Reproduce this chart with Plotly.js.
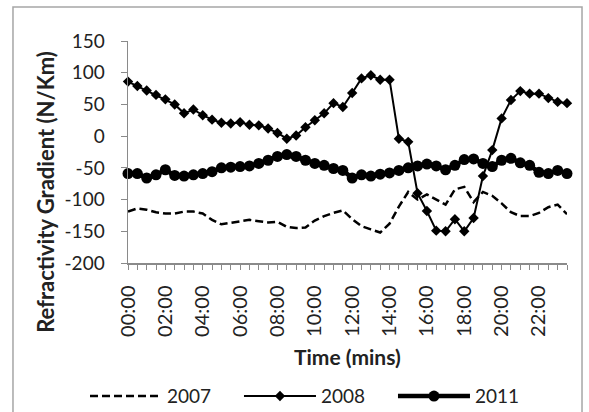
<!DOCTYPE html>
<html><head><meta charset="utf-8">
<script src="https://cdn.plot.ly/plotly-3.0.1.min.js"></script>
<style>html,body{margin:0;padding:0;background:#fff}#chart{width:589px;height:412px}</style>
</head><body><div id="chart"></div>
<script>
const times = ["00:00","00:30","01:00","01:30","02:00","02:30","03:00","03:30","04:00","04:30","05:00","05:30",
"06:00","06:30","07:00","07:30","08:00","08:30","09:00","09:30","10:00","10:30","11:00","11:30",
"12:00","12:30","13:00","13:30","14:00","14:30","15:00","15:30","16:00","16:30","17:00","17:30",
"18:00","18:30","19:00","19:30","20:00","20:30","21:00","21:30","22:00","22:30","23:00","23:30"];
const shownLabels = ["00:00","02:00","04:00","06:00","08:00","10:00","12:00","14:00","16:00","18:00","20:00","22:00"];
const s2007 = [-119,-114,-116,-120,-122,-122,-119,-119,-122,-132,-139,-137,
-135,-132,-134,-136,-135,-143,-145,-144,-133,-126,-121,-117,
-131,-142,-147,-152,-138,-111,-88,-100,-92,-100,-108,-84,
-80,-104,-88,-94,-106,-120,-126,-126,-121,-112,-108,-123];
const s2008 = [86,79,72,65,58,50,36,42,33,26,21,20,
22,18,17,12,5,-4,1,14,25,36,52,46,
68,91,96,89,89,-4,-9,-90,-118,-149,-150,-131,
-150,-129,-63,-22,28,57,71,67,67,60,54,52];
const s2011 = [-59,-59,-66,-61,-53,-62,-63,-61,-59,-56,-50,-49,
-48,-47,-43,-38,-32,-29,-32,-38,-43,-46,-51,-54,
-66,-61,-63,-60,-58,-54,-50,-47,-44,-47,-53,-46,
-37,-36,-43,-48,-38,-35,-42,-46,-57,-59,-54,-59];
const yTickVals = [150,100,50,0,-50,-100,-150,-200];
const yTickText = ["150","100","50","0","-50","-100","-150","-200"];
const seriesNames = ["2007","2008","2011"];

const FONT = "Lato, 'Open Sans', sans-serif";
const AX = "#8a8a8a";
const traces = [
  {x: times, y: s2007, name: seriesNames[0], type: "scatter", mode: "lines",
   line: {color: "#000", width: 2.5, dash: "8px,4px"}, cliponaxis: false},
  {x: times, y: s2008, name: seriesNames[1], type: "scatter", mode: "lines+markers",
   line: {color: "#000", width: 2}, marker: {symbol: "diamond", size: 8, color: "#000"}, cliponaxis: false},
  {x: times, y: s2011, name: seriesNames[2], type: "scatter", mode: "lines+markers",
   line: {color: "#000", width: 4.5}, marker: {symbol: "circle", size: 11, color: "#000"}, cliponaxis: false}
];
const tickText = times.map(t => shownLabels.includes(t) ? t : "");
const layout = {
  width: 589, height: 412,
  margin: {l: 128, r: 22, t: 41, b: 149, pad: 0, autoexpand: false},
  paper_bgcolor: "#fff", plot_bgcolor: "#fff",
  font: {family: FONT, color: "#222"},
  showlegend: true,
  xaxis: {type: "category", categoryorder: "array", categoryarray: times, range: [0, 47],
    showline: true, linecolor: AX, linewidth: 1.5, showgrid: false, zeroline: false,
    ticks: "outside", ticklen: 5, tickcolor: AX, tickwidth: 1,
    tickmode: "array", tickvals: times, ticktext: tickText, tickangle: -90,
    tickfont: {family: FONT, size: 20, color: "#222"}, ticklabelstandoff: 8},
  yaxis: {range: [-200, 150], showline: true, linecolor: AX, linewidth: 1.5,
    showgrid: false, zeroline: false, ticks: "outside", ticklen: 6, tickcolor: AX, tickwidth: 1,
    tickmode: "array", tickvals: yTickVals, ticktext: yTickText,
    tickfont: {family: FONT, size: 19, color: "#222"}, ticklabelstandoff: 12},
  legend: {orientation: "h", xref: "paper", yref: "paper", x: -0.098, xanchor: "left",
    y: -0.6, yanchor: "middle",
    font: {family: FONT, size: 19, color: "#222"}, itemwidth: 72, entrywidth: 67,
    bgcolor: "rgba(0,0,0,0)"},
  annotations: [
    {text: "<b>Refractivity Gradient (N/Km)</b>", xref: "paper", yref: "paper",
     x: -0.187, y: 0.32, xanchor: "center", yanchor: "middle", textangle: -90, showarrow: false,
     font: {family: FONT, size: 22, color: "#222"}},
    {text: "<b>Time (mins)</b>", xref: "paper", yref: "paper",
     x: 0.5, y: -0.419, xanchor: "center", yanchor: "middle", showarrow: false,
     font: {family: FONT, size: 21, color: "#222"}}
  ],
  shapes: [
    {type: "rect", xref: "paper", yref: "paper", x0: -0.262, x1: 1.0342, y0: -0.72, y1: 1.1532,
     line: {color: "#a6a6a6", width: 1.5}}
  ]
};
Plotly.newPlot("chart", traces, layout, {displayModeBar: false, staticPlot: true});
</script></body></html>
